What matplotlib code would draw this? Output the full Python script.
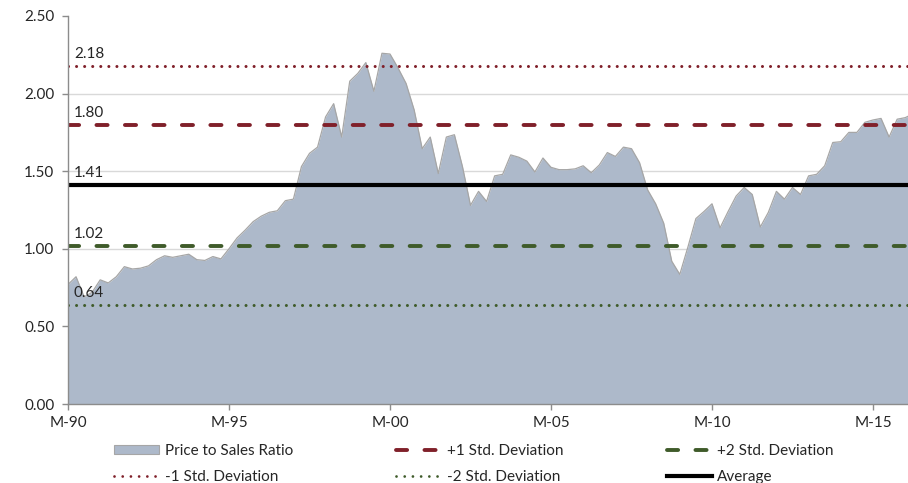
import numpy as np
import matplotlib.pyplot as plt
from matplotlib.lines import Line2D

plt.rcParams['font.family'] = ['Lato', 'DejaVu Sans']
plt.rcParams['lines.scale_dashes'] = False

# quarterly price to sales ratio, starting March 1990
ps_ratio = [
    0.77, 0.82, 0.69, 0.72, 0.80, 0.78, 0.82, 0.885, 0.87, 0.875,
    0.89, 0.93, 0.955, 0.945, 0.955, 0.965, 0.93, 0.925, 0.95, 0.935,
    1.00, 1.07, 1.12, 1.175, 1.21, 1.235, 1.245, 1.31, 1.32, 1.53,
    1.615, 1.655, 1.85, 1.935, 1.72, 2.08, 2.13, 2.20, 2.015, 2.26,
    2.255, 2.165, 2.065, 1.895, 1.645, 1.72, 1.485, 1.72, 1.735, 1.53,
    1.28, 1.37, 1.305, 1.47, 1.48, 1.605, 1.59, 1.565, 1.495, 1.585,
    1.525, 1.51, 1.51, 1.515, 1.535, 1.49, 1.54, 1.62, 1.595, 1.655,
    1.645, 1.555, 1.38, 1.29, 1.165, 0.92, 0.835, 1.01, 1.195, 1.24,
    1.29, 1.135, 1.24, 1.34, 1.395, 1.35, 1.14, 1.235, 1.37, 1.32,
    1.395, 1.35, 1.47, 1.48, 1.535, 1.685, 1.69, 1.75, 1.75, 1.815,
    1.83, 1.84, 1.72, 1.835, 1.845, 1.87,
]
start_year = 1990

average = 1.41
plus_1sd = 1.80
minus_1sd = 2.18
plus_2sd = 1.02
minus_2sd = 0.64

tick_years = [1990, 1995, 2000, 2005, 2010, 2015]
tick_labels = ["M-90", "M-95", "M-00", "M-05", "M-10", "M-15"]

red = '#80202A'
green = '#3F5B2A'
fill_color = '#ADB9CA'
text_color = '#262626'
axis_color = '#8C8C8C'
fs = 11

fig = plt.figure(figsize=(9.08, 4.83), dpi=100)
ax = fig.add_axes([68 / 908, 1 - 404 / 483, 840 / 908, 388 / 483])

x = start_year + np.arange(len(ps_ratio)) / 4
ax.fill_between(x, ps_ratio, color=fill_color, linewidth=0, zorder=2)
ax.plot(x, ps_ratio, color='#A6A6A6', lw=0.9, zorder=2.5)

dash = (0, (8, 12.5))
dot = (0, (0.01, 5.8))
lines = [
    (plus_1sd, red, dash, 2.8),
    (minus_1sd, red, dot, 2.2),
    (plus_2sd, green, dash, 2.8),
    (minus_2sd, green, dot, 2.2),
    (average, 'black', '-', 3.0),
]
for val, col, ls, lw in lines:
    ax.axhline(val, color=col, linestyle=ls, lw=lw, dash_capstyle='round',
               solid_capstyle='butt', zorder=3)
    ax.annotate('%.2f' % val, xy=(0, val), xycoords=('axes fraction', 'data'),
                xytext=(4.3, 5.6), textcoords='offset points', va='baseline',
                ha='left', fontsize=fs, color=text_color, zorder=4)

ax.set_xlim(start_year, start_year + 840 / 32.2)
ax.set_ylim(0, 2.5)
ax.set_yticks(np.arange(0, 2.51, 0.5))
ax.set_yticklabels(['%.2f' % v for v in np.arange(0, 2.51, 0.5)])
ax.set_xticks(tick_years)
ax.set_xticklabels(tick_labels)

for v in np.arange(0.5, 2.01, 0.5):
    ax.axhline(v, color='#D9D9D9', lw=1, zorder=1)

for s in ['top', 'right']:
    ax.spines[s].set_visible(False)
for s in ['left', 'bottom']:
    ax.spines[s].set_color(axis_color)
    ax.spines[s].set_linewidth(1)
    ax.spines[s].set_zorder(5)
ax.tick_params(axis='both', direction='out', length=4.3, width=1,
               color=axis_color, labelsize=fs, labelcolor=text_color)
ax.tick_params(axis='y', pad=5.5)
ax.tick_params(axis='x', pad=4.0)

# legend, filled column by column to match the row-wise reference order
h_area = plt.Rectangle((0, 0), 1, 1, facecolor=fill_color, edgecolor='#A6A6A6', lw=0.8)
h_p1 = Line2D([], [], color=red, linestyle=dash, lw=2.8, dash_capstyle='round')
h_m1 = Line2D([], [], color=red, linestyle=(0, (0.01, 5.9)), lw=2.0, dash_capstyle='round')
h_p2 = Line2D([], [], color=green, linestyle=dash, lw=2.8, dash_capstyle='round')
h_m2 = Line2D([], [], color=green, linestyle=(0, (0.01, 5.9)), lw=2.0, dash_capstyle='round')
h_avg = Line2D([], [], color='black', lw=3.0)
handles = [h_area, h_m1, h_p1, h_m2, h_p2, h_avg]
labels = ["Price to Sales Ratio", "-1 Std. Deviation", "+1 Std. Deviation",
          "-2 Std. Deviation", "+2 Std. Deviation", "Average"]
fig.legend(handles, labels, loc='center', bbox_to_anchor=(474 / 908, 1 - 464 / 483),
           ncol=3, frameon=False, fontsize=fs, handlelength=2.95, handleheight=0.55,
           handletextpad=0.37, columnspacing=6.75, labelspacing=0.75,
           labelcolor=text_color)

fig.savefig('out.png', dpi=100)
